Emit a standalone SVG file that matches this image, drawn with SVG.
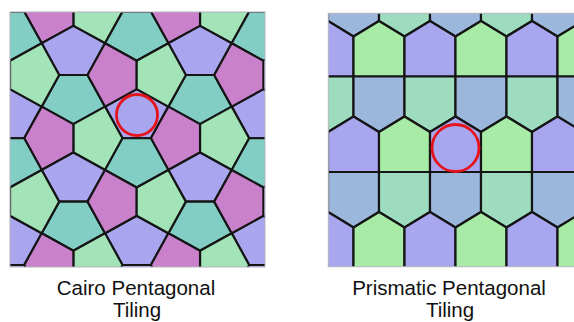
<svg xmlns="http://www.w3.org/2000/svg" xmlns:xlink="http://www.w3.org/1999/xlink" width="574" height="322" viewBox="0 0 574 322">
<style>
.ce{stroke:#151515;stroke-width:3.4;stroke-linejoin:round}
.pe polygon{stroke:#151515;stroke-width:2.2;stroke-linejoin:round}
.cp{fill:#a9a5ee}.ck{fill:#c981cc}.cg{fill:#a3e3b8}.ct{fill:#82cec4}
.pp{fill:#a9a6f0}.pg{fill:#a8eba6}.pm{fill:#9edcc0}.pb{fill:#9cb7dc}
.ring{fill:none;stroke:#e5141c;stroke-width:2.8}
.frame{fill:none;stroke:#b4b4bc;stroke-width:1}
.lbl{font-family:"Liberation Sans",Arial,sans-serif;font-size:20.5px;fill:#111;text-anchor:middle}
</style>
<defs>
<clipPath id="clipC"><rect x="10" y="12" width="255" height="255"/></clipPath>
<clipPath id="clipP"><rect x="328.3" y="13.3" width="245.7" height="253.4"/></clipPath>
<g id="ctile">
<polygon class="ce cp" points="0,0 50,-27.6 100,0 72.4,50 27.6,50"/>
<polygon class="ce cp" points="100,100 150,72.4 200,100 172.4,150 127.6,150"/>
<polygon class="ce ct" points="100,0 127.6,-50 172.4,-50 200,0 150,27.6"/>
<polygon class="ce ct" points="0,100 27.6,50 72.4,50 100,100 50,127.6"/>
<polygon class="ce cg" points="0,0 27.6,50 0,100 -50,72.4 -50,27.6"/>
<polygon class="ce cg" points="100,100 127.6,150 100,200 50,172.4 50,127.6"/>
<polygon class="ce ck" points="100,0 150,27.6 150,72.4 100,100 72.4,50"/>
<polygon class="ce ck" points="0,100 50,127.6 50,172.4 0,200 -27.6,150"/>
</g>
</defs>
<g id="cairo-tiling">
<g clip-path="url(#clipC)">
<rect x="10" y="12" width="255" height="255" fill="#a9a5ee"/>
<g transform="translate(41.7 43.3) scale(0.6333)">
<use xlink:href="#ctile" x="-200" y="-200"/>
<use xlink:href="#ctile" x="0" y="-200"/>
<use xlink:href="#ctile" x="200" y="-200"/>
<use xlink:href="#ctile" x="-200" y="0"/>
<use xlink:href="#ctile" x="0" y="0"/>
<use xlink:href="#ctile" x="200" y="0"/>
<use xlink:href="#ctile" x="-200" y="200"/>
<use xlink:href="#ctile" x="0" y="200"/>
<use xlink:href="#ctile" x="200" y="200"/>
</g>
</g>
<rect class="frame" x="10" y="12" width="255" height="255"/>
<circle class="ring" cx="137" cy="115" r="20.5"/>
</g>
<g id="prismatic-tiling">
<g clip-path="url(#clipP)" class="pe">
<polygon class="pb" points="328,-19 379,-19 379,21 353.5,36.5 328,21"/>
<polygon class="pm" points="379,-19 430,-19 430,21 404.5,36.5 379,21"/>
<polygon class="pb" points="430,-19 481,-19 481,21 455.5,36.5 430,21"/>
<polygon class="pm" points="481,-19 532,-19 532,21 506.5,36.5 481,21"/>
<polygon class="pb" points="532,-19 583,-19 583,21 557.5,36.5 532,21"/>
<polygon class="pp" points="302.5,76.5 302.5,36.5 328,21 353.5,36.5 353.5,76.5"/>
<polygon class="pg" points="353.5,76.5 353.5,36.5 379,21 404.5,36.5 404.5,76.5"/>
<polygon class="pp" points="404.5,76.5 404.5,36.5 430,21 455.5,36.5 455.5,76.5"/>
<polygon class="pg" points="455.5,76.5 455.5,36.5 481,21 506.5,36.5 506.5,76.5"/>
<polygon class="pp" points="506.5,76.5 506.5,36.5 532,21 557.5,36.5 557.5,76.5"/>
<polygon class="pg" points="557.5,76.5 557.5,36.5 583,21 608.5,36.5 608.5,76.5"/>
<polygon class="pm" points="302.5,76.5 353.5,76.5 353.5,116.5 328,132 302.5,116.5"/>
<polygon class="pb" points="353.5,76.5 404.5,76.5 404.5,116.5 379,132 353.5,116.5"/>
<polygon class="pm" points="404.5,76.5 455.5,76.5 455.5,116.5 430,132 404.5,116.5"/>
<polygon class="pb" points="455.5,76.5 506.5,76.5 506.5,116.5 481,132 455.5,116.5"/>
<polygon class="pm" points="506.5,76.5 557.5,76.5 557.5,116.5 532,132 506.5,116.5"/>
<polygon class="pb" points="557.5,76.5 608.5,76.5 608.5,116.5 583,132 557.5,116.5"/>
<polygon class="pp" points="328,172 328,132 353.5,116.5 379,132 379,172"/>
<polygon class="pg" points="379,172 379,132 404.5,116.5 430,132 430,172"/>
<polygon class="pp" points="430,172 430,132 455.5,116.5 481,132 481,172"/>
<polygon class="pg" points="481,172 481,132 506.5,116.5 532,132 532,172"/>
<polygon class="pp" points="532,172 532,132 557.5,116.5 583,132 583,172"/>
<polygon class="pb" points="328,172 379,172 379,212 353.5,227.5 328,212"/>
<polygon class="pm" points="379,172 430,172 430,212 404.5,227.5 379,212"/>
<polygon class="pb" points="430,172 481,172 481,212 455.5,227.5 430,212"/>
<polygon class="pm" points="481,172 532,172 532,212 506.5,227.5 481,212"/>
<polygon class="pb" points="532,172 583,172 583,212 557.5,227.5 532,212"/>
<polygon class="pp" points="302.5,280 302.5,227.5 328,212 353.5,227.5 353.5,280"/>
<polygon class="pg" points="353.5,280 353.5,227.5 379,212 404.5,227.5 404.5,280"/>
<polygon class="pp" points="404.5,280 404.5,227.5 430,212 455.5,227.5 455.5,280"/>
<polygon class="pg" points="455.5,280 455.5,227.5 481,212 506.5,227.5 506.5,280"/>
<polygon class="pp" points="506.5,280 506.5,227.5 532,212 557.5,227.5 557.5,280"/>
<polygon class="pg" points="557.5,280 557.5,227.5 583,212 608.5,227.5 608.5,280"/>
</g>
<rect class="frame" x="328.3" y="13.3" width="250" height="253.4"/>
<circle class="ring" cx="455.5" cy="148" r="23.5"/>
</g>
<g id="labels">
<text class="lbl" x="136" y="295">Cairo Pentagonal</text>
<text class="lbl" x="137" y="316.5">Tiling</text>
<text class="lbl" x="449" y="295">Prismatic Pentagonal</text>
<text class="lbl" x="450" y="316.5">Tiling</text>
</g>
</svg>
